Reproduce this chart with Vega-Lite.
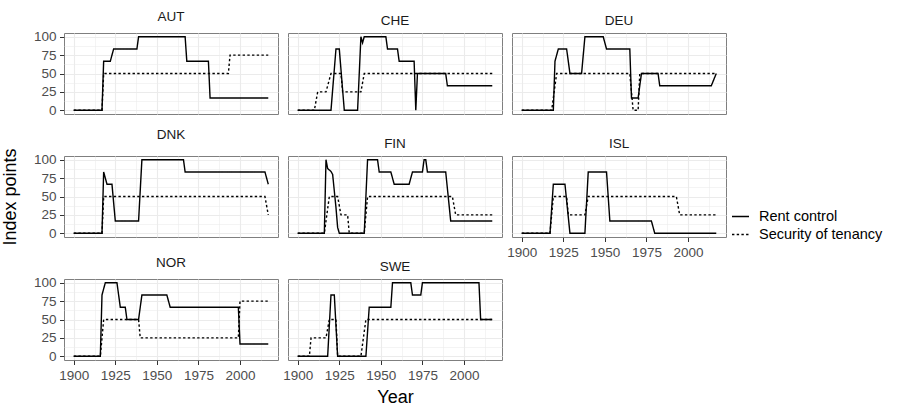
{
  "$schema": "https://vega.github.io/schema/vega-lite/v6.json",
  "background": "white",
  "padding": {"left": 0, "top": 9, "right": 5, "bottom": 2},
  "datasets": {"d": [
    {"c":"AUT","s":"Rent control","year":1900,"v":0},{"c":"AUT","s":"Rent control","year":1917,"v":0},{"c":"AUT","s":"Rent control","year":1918,"v":66.7},{"c":"AUT","s":"Rent control","year":1922,"v":66.7},{"c":"AUT","s":"Rent control","year":1924,"v":83.3},{"c":"AUT","s":"Rent control","year":1938,"v":83.3},{"c":"AUT","s":"Rent control","year":1939,"v":100},{"c":"AUT","s":"Rent control","year":1967,"v":100},{"c":"AUT","s":"Rent control","year":1968,"v":66.7},{"c":"AUT","s":"Rent control","year":1981,"v":66.7},{"c":"AUT","s":"Rent control","year":1982,"v":16.7},{"c":"AUT","s":"Rent control","year":2017,"v":16.7},
    {"c":"AUT","s":"Security of tenancy","year":1900,"v":0},{"c":"AUT","s":"Security of tenancy","year":1917,"v":0},{"c":"AUT","s":"Security of tenancy","year":1918,"v":50},{"c":"AUT","s":"Security of tenancy","year":1993,"v":50},{"c":"AUT","s":"Security of tenancy","year":1994,"v":75},{"c":"AUT","s":"Security of tenancy","year":2017,"v":75},
    {"c":"CHE","s":"Rent control","year":1900,"v":0},{"c":"CHE","s":"Rent control","year":1920,"v":0},{"c":"CHE","s":"Rent control","year":1923,"v":83.3},{"c":"CHE","s":"Rent control","year":1925,"v":83.3},{"c":"CHE","s":"Rent control","year":1928,"v":0},{"c":"CHE","s":"Rent control","year":1936,"v":0},{"c":"CHE","s":"Rent control","year":1938,"v":100},{"c":"CHE","s":"Rent control","year":1939,"v":91.7},{"c":"CHE","s":"Rent control","year":1940,"v":100},{"c":"CHE","s":"Rent control","year":1953,"v":100},{"c":"CHE","s":"Rent control","year":1954,"v":83.3},{"c":"CHE","s":"Rent control","year":1960,"v":83.3},{"c":"CHE","s":"Rent control","year":1961,"v":66.7},{"c":"CHE","s":"Rent control","year":1970,"v":66.7},{"c":"CHE","s":"Rent control","year":1971,"v":0},{"c":"CHE","s":"Rent control","year":1972,"v":50},{"c":"CHE","s":"Rent control","year":1989,"v":50},{"c":"CHE","s":"Rent control","year":1990,"v":33.3},{"c":"CHE","s":"Rent control","year":2017,"v":33.3},
    {"c":"CHE","s":"Security of tenancy","year":1900,"v":0},{"c":"CHE","s":"Security of tenancy","year":1910,"v":0},{"c":"CHE","s":"Security of tenancy","year":1912,"v":25},{"c":"CHE","s":"Security of tenancy","year":1917,"v":25},{"c":"CHE","s":"Security of tenancy","year":1920,"v":50},{"c":"CHE","s":"Security of tenancy","year":1926,"v":50},{"c":"CHE","s":"Security of tenancy","year":1927,"v":25},{"c":"CHE","s":"Security of tenancy","year":1938,"v":25},{"c":"CHE","s":"Security of tenancy","year":1940,"v":50},{"c":"CHE","s":"Security of tenancy","year":2017,"v":50},
    {"c":"DEU","s":"Rent control","year":1900,"v":0},{"c":"DEU","s":"Rent control","year":1919,"v":0},{"c":"DEU","s":"Rent control","year":1920,"v":66.7},{"c":"DEU","s":"Rent control","year":1922,"v":83.3},{"c":"DEU","s":"Rent control","year":1927,"v":83.3},{"c":"DEU","s":"Rent control","year":1929,"v":50},{"c":"DEU","s":"Rent control","year":1936,"v":50},{"c":"DEU","s":"Rent control","year":1938,"v":100},{"c":"DEU","s":"Rent control","year":1949,"v":100},{"c":"DEU","s":"Rent control","year":1951,"v":83.3},{"c":"DEU","s":"Rent control","year":1965,"v":83.3},{"c":"DEU","s":"Rent control","year":1966,"v":16.7},{"c":"DEU","s":"Rent control","year":1970,"v":16.7},{"c":"DEU","s":"Rent control","year":1972,"v":50},{"c":"DEU","s":"Rent control","year":1982,"v":50},{"c":"DEU","s":"Rent control","year":1983,"v":33.3},{"c":"DEU","s":"Rent control","year":2014,"v":33.3},{"c":"DEU","s":"Rent control","year":2017,"v":50},
    {"c":"DEU","s":"Security of tenancy","year":1900,"v":0},{"c":"DEU","s":"Security of tenancy","year":1918,"v":0},{"c":"DEU","s":"Security of tenancy","year":1921,"v":50},{"c":"DEU","s":"Security of tenancy","year":1965,"v":50},{"c":"DEU","s":"Security of tenancy","year":1967,"v":0},{"c":"DEU","s":"Security of tenancy","year":1970,"v":0},{"c":"DEU","s":"Security of tenancy","year":1971,"v":50},{"c":"DEU","s":"Security of tenancy","year":2017,"v":50},
    {"c":"DNK","s":"Rent control","year":1900,"v":0},{"c":"DNK","s":"Rent control","year":1917,"v":0},{"c":"DNK","s":"Rent control","year":1918,"v":83.3},{"c":"DNK","s":"Rent control","year":1920,"v":66.7},{"c":"DNK","s":"Rent control","year":1923,"v":66.7},{"c":"DNK","s":"Rent control","year":1925,"v":16.7},{"c":"DNK","s":"Rent control","year":1939,"v":16.7},{"c":"DNK","s":"Rent control","year":1941,"v":100},{"c":"DNK","s":"Rent control","year":1966,"v":100},{"c":"DNK","s":"Rent control","year":1967,"v":83.3},{"c":"DNK","s":"Rent control","year":2015,"v":83.3},{"c":"DNK","s":"Rent control","year":2017,"v":66.7},
    {"c":"DNK","s":"Security of tenancy","year":1900,"v":0},{"c":"DNK","s":"Security of tenancy","year":1917,"v":0},{"c":"DNK","s":"Security of tenancy","year":1918,"v":50},{"c":"DNK","s":"Security of tenancy","year":2015,"v":50},{"c":"DNK","s":"Security of tenancy","year":2017,"v":25},
    {"c":"FIN","s":"Rent control","year":1900,"v":0},{"c":"FIN","s":"Rent control","year":1916,"v":0},{"c":"FIN","s":"Rent control","year":1917,"v":100},{"c":"FIN","s":"Rent control","year":1918,"v":88},{"c":"FIN","s":"Rent control","year":1920,"v":84},{"c":"FIN","s":"Rent control","year":1921,"v":80},{"c":"FIN","s":"Rent control","year":1923,"v":35},{"c":"FIN","s":"Rent control","year":1924,"v":8},{"c":"FIN","s":"Rent control","year":1925,"v":0},{"c":"FIN","s":"Rent control","year":1940,"v":0},{"c":"FIN","s":"Rent control","year":1942,"v":100},{"c":"FIN","s":"Rent control","year":1948,"v":100},{"c":"FIN","s":"Rent control","year":1949,"v":83.3},{"c":"FIN","s":"Rent control","year":1956,"v":83.3},{"c":"FIN","s":"Rent control","year":1958,"v":66.7},{"c":"FIN","s":"Rent control","year":1967,"v":66.7},{"c":"FIN","s":"Rent control","year":1969,"v":83.3},{"c":"FIN","s":"Rent control","year":1975,"v":83.3},{"c":"FIN","s":"Rent control","year":1976,"v":100},{"c":"FIN","s":"Rent control","year":1977,"v":100},{"c":"FIN","s":"Rent control","year":1978,"v":83.3},{"c":"FIN","s":"Rent control","year":1989,"v":83.3},{"c":"FIN","s":"Rent control","year":1992,"v":16.7},{"c":"FIN","s":"Rent control","year":2017,"v":16.7},
    {"c":"FIN","s":"Security of tenancy","year":1900,"v":0},{"c":"FIN","s":"Security of tenancy","year":1916,"v":0},{"c":"FIN","s":"Security of tenancy","year":1919,"v":50},{"c":"FIN","s":"Security of tenancy","year":1924,"v":50},{"c":"FIN","s":"Security of tenancy","year":1926,"v":25},{"c":"FIN","s":"Security of tenancy","year":1930,"v":25},{"c":"FIN","s":"Security of tenancy","year":1931,"v":0},{"c":"FIN","s":"Security of tenancy","year":1940,"v":0},{"c":"FIN","s":"Security of tenancy","year":1942,"v":50},{"c":"FIN","s":"Security of tenancy","year":1993,"v":50},{"c":"FIN","s":"Security of tenancy","year":1995,"v":25},{"c":"FIN","s":"Security of tenancy","year":2017,"v":25},
    {"c":"ISL","s":"Rent control","year":1900,"v":0},{"c":"ISL","s":"Rent control","year":1917,"v":0},{"c":"ISL","s":"Rent control","year":1919,"v":66.7},{"c":"ISL","s":"Rent control","year":1926,"v":66.7},{"c":"ISL","s":"Rent control","year":1929,"v":0},{"c":"ISL","s":"Rent control","year":1938,"v":0},{"c":"ISL","s":"Rent control","year":1940,"v":83.3},{"c":"ISL","s":"Rent control","year":1951,"v":83.3},{"c":"ISL","s":"Rent control","year":1953,"v":16.7},{"c":"ISL","s":"Rent control","year":1978,"v":16.7},{"c":"ISL","s":"Rent control","year":1980,"v":0},{"c":"ISL","s":"Rent control","year":2017,"v":0},
    {"c":"ISL","s":"Security of tenancy","year":1900,"v":0},{"c":"ISL","s":"Security of tenancy","year":1917,"v":0},{"c":"ISL","s":"Security of tenancy","year":1919,"v":50},{"c":"ISL","s":"Security of tenancy","year":1927,"v":50},{"c":"ISL","s":"Security of tenancy","year":1928,"v":25},{"c":"ISL","s":"Security of tenancy","year":1938,"v":25},{"c":"ISL","s":"Security of tenancy","year":1940,"v":50},{"c":"ISL","s":"Security of tenancy","year":1993,"v":50},{"c":"ISL","s":"Security of tenancy","year":1995,"v":25},{"c":"ISL","s":"Security of tenancy","year":2017,"v":25},
    {"c":"NOR","s":"Rent control","year":1900,"v":0},{"c":"NOR","s":"Rent control","year":1916,"v":0},{"c":"NOR","s":"Rent control","year":1917,"v":83.3},{"c":"NOR","s":"Rent control","year":1919,"v":100},{"c":"NOR","s":"Rent control","year":1926,"v":100},{"c":"NOR","s":"Rent control","year":1928,"v":66.7},{"c":"NOR","s":"Rent control","year":1931,"v":66.7},{"c":"NOR","s":"Rent control","year":1932,"v":50},{"c":"NOR","s":"Rent control","year":1939,"v":50},{"c":"NOR","s":"Rent control","year":1941,"v":83.3},{"c":"NOR","s":"Rent control","year":1956,"v":83.3},{"c":"NOR","s":"Rent control","year":1958,"v":66.7},{"c":"NOR","s":"Rent control","year":1999,"v":66.7},{"c":"NOR","s":"Rent control","year":2000,"v":16.7},{"c":"NOR","s":"Rent control","year":2017,"v":16.7},
    {"c":"NOR","s":"Security of tenancy","year":1900,"v":0},{"c":"NOR","s":"Security of tenancy","year":1916,"v":0},{"c":"NOR","s":"Security of tenancy","year":1918,"v":50},{"c":"NOR","s":"Security of tenancy","year":1939,"v":50},{"c":"NOR","s":"Security of tenancy","year":1940,"v":25},{"c":"NOR","s":"Security of tenancy","year":1999,"v":25},{"c":"NOR","s":"Security of tenancy","year":2000,"v":75},{"c":"NOR","s":"Security of tenancy","year":2017,"v":75},
    {"c":"SWE","s":"Rent control","year":1900,"v":0},{"c":"SWE","s":"Rent control","year":1918,"v":0},{"c":"SWE","s":"Rent control","year":1920,"v":83.3},{"c":"SWE","s":"Rent control","year":1922,"v":83.3},{"c":"SWE","s":"Rent control","year":1924,"v":0},{"c":"SWE","s":"Rent control","year":1941,"v":0},{"c":"SWE","s":"Rent control","year":1943,"v":66.7},{"c":"SWE","s":"Rent control","year":1956,"v":66.7},{"c":"SWE","s":"Rent control","year":1957,"v":100},{"c":"SWE","s":"Rent control","year":1968,"v":100},{"c":"SWE","s":"Rent control","year":1969,"v":83.3},{"c":"SWE","s":"Rent control","year":1974,"v":83.3},{"c":"SWE","s":"Rent control","year":1975,"v":100},{"c":"SWE","s":"Rent control","year":2009,"v":100},{"c":"SWE","s":"Rent control","year":2010,"v":50},{"c":"SWE","s":"Rent control","year":2017,"v":50},
    {"c":"SWE","s":"Security of tenancy","year":1900,"v":0},{"c":"SWE","s":"Security of tenancy","year":1907,"v":0},{"c":"SWE","s":"Security of tenancy","year":1908,"v":25},{"c":"SWE","s":"Security of tenancy","year":1917,"v":25},{"c":"SWE","s":"Security of tenancy","year":1919,"v":50},{"c":"SWE","s":"Security of tenancy","year":1923,"v":50},{"c":"SWE","s":"Security of tenancy","year":1924,"v":0},{"c":"SWE","s":"Security of tenancy","year":1938,"v":0},{"c":"SWE","s":"Security of tenancy","year":1941,"v":50},{"c":"SWE","s":"Security of tenancy","year":2017,"v":50}
  ]},
  "columns": 3,
  "bounds": "flush",
  "spacing": {"row": 42, "column": 10},
  "resolve": {"scale": {"strokeDash": "independent"}, "legend": {"strokeDash": "independent"}},
  "concat": [
    {"title": "AUT", "data": {"name": "d"}, "transform": [{"filter": "datum.c === 'AUT'"}], "mark": {"type": "line", "color": "#000000", "strokeWidth": 1.4},
     "encoding": {
      "x": {"field": "year", "type": "quantitative", "scale": {"domain": [1894.15, 2022.85], "nice": false, "zero": false}, "axis": {"title": null, "values": [1900, 1912.5, 1925, 1937.5, 1950, 1962.5, 1975, 1987.5, 2000, 2012.5], "labels": false, "ticks": false, "gridWidth": {"condition": {"test": "datum.value % 25 === 0", "value": 1.1}, "value": 0.55}}},
      "y": {"field": "v", "type": "quantitative", "scale": {"domain": [-5, 105], "nice": false, "zero": false}, "axis": {"title": null, "values": [0, 12.5, 25, 37.5, 50, 62.5, 75, 87.5, 100], "labelExpr": "datum.value % 25 === 0 ? datum.label : ''", "labelOverlap": false, "tickOpacity": {"condition": {"test": "datum.value % 25 === 0", "value": 1}, "value": 0}, "gridWidth": {"condition": {"test": "datum.value % 25 === 0", "value": 1.1}, "value": 0.55}}},
      "strokeDash": {"field": "s", "type": "nominal", "scale": {"domain": ["Rent control", "Security of tenancy"], "range": [[1, 0], [2.4, 2.3]]}, "legend": null}}},
    {"title": "CHE", "data": {"name": "d"}, "transform": [{"filter": "datum.c === 'CHE'"}], "mark": {"type": "line", "color": "#000000", "strokeWidth": 1.4},
     "encoding": {
      "x": {"field": "year", "type": "quantitative", "scale": {"domain": [1894.15, 2022.85], "nice": false, "zero": false}, "axis": {"title": null, "values": [1900, 1912.5, 1925, 1937.5, 1950, 1962.5, 1975, 1987.5, 2000, 2012.5], "labels": false, "ticks": false, "gridWidth": {"condition": {"test": "datum.value % 25 === 0", "value": 1.1}, "value": 0.55}}},
      "y": {"field": "v", "type": "quantitative", "scale": {"domain": [-5, 105], "nice": false, "zero": false}, "axis": {"title": null, "values": [0, 12.5, 25, 37.5, 50, 62.5, 75, 87.5, 100], "labels": false, "ticks": false, "gridWidth": {"condition": {"test": "datum.value % 25 === 0", "value": 1.1}, "value": 0.55}}},
      "strokeDash": {"field": "s", "type": "nominal", "scale": {"domain": ["Rent control", "Security of tenancy"], "range": [[1, 0], [2.4, 2.3]]}, "legend": null}}},
    {"title": "DEU", "data": {"name": "d"}, "transform": [{"filter": "datum.c === 'DEU'"}], "mark": {"type": "line", "color": "#000000", "strokeWidth": 1.4},
     "encoding": {
      "x": {"field": "year", "type": "quantitative", "scale": {"domain": [1894.15, 2022.85], "nice": false, "zero": false}, "axis": {"title": null, "values": [1900, 1912.5, 1925, 1937.5, 1950, 1962.5, 1975, 1987.5, 2000, 2012.5], "labels": false, "ticks": false, "gridWidth": {"condition": {"test": "datum.value % 25 === 0", "value": 1.1}, "value": 0.55}}},
      "y": {"field": "v", "type": "quantitative", "scale": {"domain": [-5, 105], "nice": false, "zero": false}, "axis": {"title": null, "values": [0, 12.5, 25, 37.5, 50, 62.5, 75, 87.5, 100], "labels": false, "ticks": false, "gridWidth": {"condition": {"test": "datum.value % 25 === 0", "value": 1.1}, "value": 0.55}}},
      "strokeDash": {"field": "s", "type": "nominal", "scale": {"domain": ["Rent control", "Security of tenancy"], "range": [[1, 0], [2.4, 2.3]]}, "legend": null}}},
    {"title": "DNK", "data": {"name": "d"}, "transform": [{"filter": "datum.c === 'DNK'"}], "mark": {"type": "line", "color": "#000000", "strokeWidth": 1.4},
     "encoding": {
      "x": {"field": "year", "type": "quantitative", "scale": {"domain": [1894.15, 2022.85], "nice": false, "zero": false}, "axis": {"title": null, "values": [1900, 1912.5, 1925, 1937.5, 1950, 1962.5, 1975, 1987.5, 2000, 2012.5], "labels": false, "ticks": false, "gridWidth": {"condition": {"test": "datum.value % 25 === 0", "value": 1.1}, "value": 0.55}}},
      "y": {"field": "v", "type": "quantitative", "scale": {"domain": [-5, 105], "nice": false, "zero": false}, "axis": {"title": "Index points", "values": [0, 12.5, 25, 37.5, 50, 62.5, 75, 87.5, 100], "labelExpr": "datum.value % 25 === 0 ? datum.label : ''", "labelOverlap": false, "tickOpacity": {"condition": {"test": "datum.value % 25 === 0", "value": 1}, "value": 0}, "gridWidth": {"condition": {"test": "datum.value % 25 === 0", "value": 1.1}, "value": 0.55}}},
      "strokeDash": {"field": "s", "type": "nominal", "scale": {"domain": ["Rent control", "Security of tenancy"], "range": [[1, 0], [2.4, 2.3]]}, "legend": null}}},
    {"title": "FIN", "data": {"name": "d"}, "transform": [{"filter": "datum.c === 'FIN'"}], "mark": {"type": "line", "color": "#000000", "strokeWidth": 1.4},
     "encoding": {
      "x": {"field": "year", "type": "quantitative", "scale": {"domain": [1894.15, 2022.85], "nice": false, "zero": false}, "axis": {"title": null, "values": [1900, 1912.5, 1925, 1937.5, 1950, 1962.5, 1975, 1987.5, 2000, 2012.5], "labels": false, "ticks": false, "gridWidth": {"condition": {"test": "datum.value % 25 === 0", "value": 1.1}, "value": 0.55}}},
      "y": {"field": "v", "type": "quantitative", "scale": {"domain": [-5, 105], "nice": false, "zero": false}, "axis": {"title": null, "values": [0, 12.5, 25, 37.5, 50, 62.5, 75, 87.5, 100], "labels": false, "ticks": false, "gridWidth": {"condition": {"test": "datum.value % 25 === 0", "value": 1.1}, "value": 0.55}}},
      "strokeDash": {"field": "s", "type": "nominal", "scale": {"domain": ["Rent control", "Security of tenancy"], "range": [[1, 0], [2.4, 2.3]]}, "legend": null}}},
    {"title": "ISL", "data": {"name": "d"}, "transform": [{"filter": "datum.c === 'ISL'"}], "mark": {"type": "line", "color": "#000000", "strokeWidth": 1.4},
     "encoding": {
      "x": {"field": "year", "type": "quantitative", "scale": {"domain": [1894.15, 2022.85], "nice": false, "zero": false}, "axis": {"title": null, "format": "d", "values": [1900, 1912.5, 1925, 1937.5, 1950, 1962.5, 1975, 1987.5, 2000, 2012.5], "labelExpr": "datum.value % 25 === 0 ? datum.label : ''", "labelOverlap": false, "tickOpacity": {"condition": {"test": "datum.value % 25 === 0", "value": 1}, "value": 0}, "gridWidth": {"condition": {"test": "datum.value % 25 === 0", "value": 1.1}, "value": 0.55}}},
      "y": {"field": "v", "type": "quantitative", "scale": {"domain": [-5, 105], "nice": false, "zero": false}, "axis": {"title": null, "values": [0, 12.5, 25, 37.5, 50, 62.5, 75, 87.5, 100], "labels": false, "ticks": false, "gridWidth": {"condition": {"test": "datum.value % 25 === 0", "value": 1.1}, "value": 0.55}}},
      "strokeDash": {"field": "s", "type": "nominal", "scale": {"domain": ["Rent control", "Security of tenancy"], "range": [[1, 0], [2.4, 2.3]]},
        "legend": {"title": null, "orient": "none", "legendX": 219, "legendY": 51, "padding": 0, "symbolType": "stroke", "symbolStrokeColor": "#000000", "symbolStrokeWidth": 1.4, "symbolSize": 289, "labelFontSize": 14.5, "labelFont": "Liberation Sans", "labelColor": "#000000", "rowPadding": 2, "labelOffset": 9}}}},
    {"title": "NOR", "data": {"name": "d"}, "transform": [{"filter": "datum.c === 'NOR'"}], "mark": {"type": "line", "color": "#000000", "strokeWidth": 1.4},
     "encoding": {
      "x": {"field": "year", "type": "quantitative", "scale": {"domain": [1894.15, 2022.85], "nice": false, "zero": false}, "axis": {"title": null, "format": "d", "values": [1900, 1912.5, 1925, 1937.5, 1950, 1962.5, 1975, 1987.5, 2000, 2012.5], "labelExpr": "datum.value % 25 === 0 ? datum.label : ''", "labelOverlap": false, "tickOpacity": {"condition": {"test": "datum.value % 25 === 0", "value": 1}, "value": 0}, "gridWidth": {"condition": {"test": "datum.value % 25 === 0", "value": 1.1}, "value": 0.55}}},
      "y": {"field": "v", "type": "quantitative", "scale": {"domain": [-5, 105], "nice": false, "zero": false}, "axis": {"title": null, "values": [0, 12.5, 25, 37.5, 50, 62.5, 75, 87.5, 100], "labelExpr": "datum.value % 25 === 0 ? datum.label : ''", "labelOverlap": false, "tickOpacity": {"condition": {"test": "datum.value % 25 === 0", "value": 1}, "value": 0}, "gridWidth": {"condition": {"test": "datum.value % 25 === 0", "value": 1.1}, "value": 0.55}}},
      "strokeDash": {"field": "s", "type": "nominal", "scale": {"domain": ["Rent control", "Security of tenancy"], "range": [[1, 0], [2.4, 2.3]]}, "legend": null}}},
    {"title": "SWE", "data": {"name": "d"}, "transform": [{"filter": "datum.c === 'SWE'"}], "mark": {"type": "line", "color": "#000000", "strokeWidth": 1.4},
     "encoding": {
      "x": {"field": "year", "type": "quantitative", "scale": {"domain": [1894.15, 2022.85], "nice": false, "zero": false}, "axis": {"title": "Year", "format": "d", "values": [1900, 1912.5, 1925, 1937.5, 1950, 1962.5, 1975, 1987.5, 2000, 2012.5], "labelExpr": "datum.value % 25 === 0 ? datum.label : ''", "labelOverlap": false, "tickOpacity": {"condition": {"test": "datum.value % 25 === 0", "value": 1}, "value": 0}, "gridWidth": {"condition": {"test": "datum.value % 25 === 0", "value": 1.1}, "value": 0.55}}},
      "y": {"field": "v", "type": "quantitative", "scale": {"domain": [-5, 105], "nice": false, "zero": false}, "axis": {"title": null, "values": [0, 12.5, 25, 37.5, 50, 62.5, 75, 87.5, 100], "labels": false, "ticks": false, "gridWidth": {"condition": {"test": "datum.value % 25 === 0", "value": 1.1}, "value": 0.55}}},
      "strokeDash": {"field": "s", "type": "nominal", "scale": {"domain": ["Rent control", "Security of tenancy"], "range": [[1, 0], [2.4, 2.3]]}, "legend": null}}}
  ],
  "config": {
    "view": {"stroke": "#7f7f7f", "strokeWidth": 1, "continuousWidth": 214, "continuousHeight": 81},
    "font": "Liberation Sans",
    "title": {"fontSize": 13.5, "fontWeight": "normal", "color": "#1a1a1a", "font": "Liberation Sans", "offset": 6, "anchor": "middle"},
    "axis": {"domain": false, "gridColor": "#ebebeb", "labelFont": "Liberation Sans", "labelFontSize": 13.5, "labelColor": "#4d4d4d", "labelPadding": 3.5, "tickColor": "#333333", "tickSize": 4.5, "titleFont": "Liberation Sans", "titleFontSize": 18, "titleFontWeight": "normal", "titleColor": "#000000"},
    "axisX": {"titlePadding": 7},
    "axisY": {"titlePadding": 14}
  }
}
